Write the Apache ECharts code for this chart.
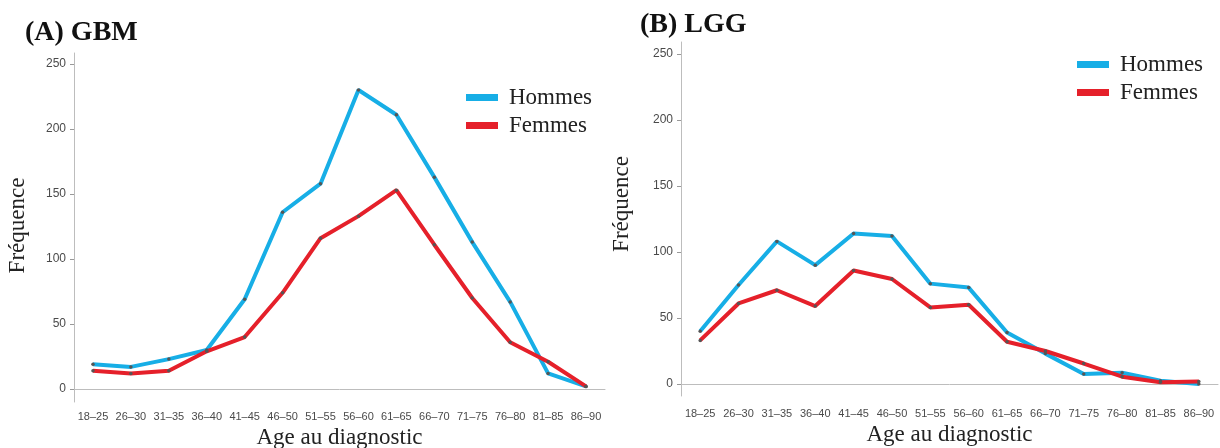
<!DOCTYPE html>
<html>
<head>
<meta charset="utf-8">
<script src="https://cdn.jsdelivr.net/npm/echarts@6/dist/echarts.min.js"></script>
<style>html,body{margin:0;padding:0;background:#fff}#c{width:1220px;height:448px}</style>
</head>
<body>
<div id="c"></div>
<script>
const categories = ['18–25','26–30','31–35','36–40','41–45','46–50','51–55','56–60','61–65','66–70','71–75','76–80','81–85','86–90'];
const yTicks = [0, 50, 100, 150, 200, 250];
const gbmHommes = [19, 17, 23, 30, 69, 136, 158, 230, 211, 163, 113, 67, 12, 2];
const gbmFemmes = [14, 12, 14, 29, 40, 74, 116, 133, 153, 111, 70, 36, 21, 2];
const lggHommes = [40, 75, 108, 90, 114, 112, 76, 73, 39, 23, 7.5, 8.5, 2.5, 0];
const lggFemmes = [33, 61, 71, 59, 86, 79.5, 58, 60, 32, 25, 15.5, 5.5, 1.3, 1.8];

const BLUE = '#17aee6', RED = '#e5202a';
const serif = 'Liberation Serif';
const sans = 'Liberation Sans';
const axisGray = '#bdbdbd';

function xAx(gi, gap, margin) {
  return {
    type: 'category', gridIndex: gi, data: categories, boundaryGap: true,
    axisLine: {lineStyle: {color: axisGray, width: 1}},
    axisTick: {alignWithLabel: true, length: 4, lineStyle: {color: '#999'}},
    axisLabel: {color: '#4a4a4a', fontFamily: sans, fontSize: 11, margin: margin, interval: 0},
    name: 'Age au diagnostic', nameLocation: 'middle', nameGap: gap,
    nameTextStyle: {fontFamily: serif, fontSize: 23, color: '#222'}
  };
}
function yAx(gi, min, max, gap, pad) {
  return {
    type: 'value', gridIndex: gi, min: min, max: max,
    axisLine: {show: true, lineStyle: {color: axisGray, width: 1}},
    axisTick: {show: true, length: 4, customValues: yTicks, lineStyle: {color: '#999'}},
    axisLabel: {color: '#4a4a4a', fontFamily: sans, fontSize: 12, margin: 8, customValues: yTicks},
    splitLine: {show: false},
    name: 'Fréquence', nameLocation: 'middle', nameGap: gap,
    nameTextStyle: {fontFamily: serif, fontSize: 23, color: '#222', padding: pad}
  };
}
function ser(name, data, color, idx) {
  return {
    name: name, type: 'line', data: data, xAxisIndex: idx, yAxisIndex: idx,
    symbol: 'circle', symbolSize: 3.5, showSymbol: true,
    lineStyle: {color: color, width: 4},
    itemStyle: {color: '#555'},
    emphasis: {disabled: true}, animation: false
  };
}
function leg(left, top) {
  return {
    orient: 'vertical', left: left, top: top, itemWidth: 32, itemHeight: 7, itemGap: 5,
    icon: 'rect',
    data: [{name: 'Hommes', itemStyle: {color: BLUE}}, {name: 'Femmes', itemStyle: {color: RED}}],
    textStyle: {fontFamily: serif, fontSize: 23, color: '#222', padding: [0, 0, 0, 6]},
    selectedMode: false
  };
}

const chart = echarts.init(document.getElementById('c'));
chart.setOption({
  animation: false,
  title: [
    {text: '(A) GBM', left: 20, top: 14, textStyle: {fontFamily: serif, fontSize: 28, fontWeight: 'bold', color: '#111'}},
    {text: '(B) LGG', left: 635, top: 6, textStyle: {fontFamily: serif, fontSize: 28, fontWeight: 'bold', color: '#111'}}
  ],
  legend: [leg(461, 81), leg(1072, 48)],
  grid: [
    {left: 74, top: 53, width: 531, height: 349, outerBoundsMode: 'none', containLabel: false},
    {left: 681, top: 42, width: 537, height: 354, outerBoundsMode: 'none', containLabel: false}
  ],
  xAxis: [xAx(0, 24, 9), xAx(1, 26, 12)],
  yAxis: [yAx(0, -10, 258.5, 45, [0, 0, 0, 4]), yAx(1, -9.1, 259, 48, [0, 0, 0, 30])],
  series: [
    ser('Hommes', gbmHommes, BLUE, 0),
    ser('Femmes', gbmFemmes, RED, 0),
    ser('Hommes', lggHommes, BLUE, 1),
    ser('Femmes', lggFemmes, RED, 1)
  ]
});
</script>
</body>
</html>
